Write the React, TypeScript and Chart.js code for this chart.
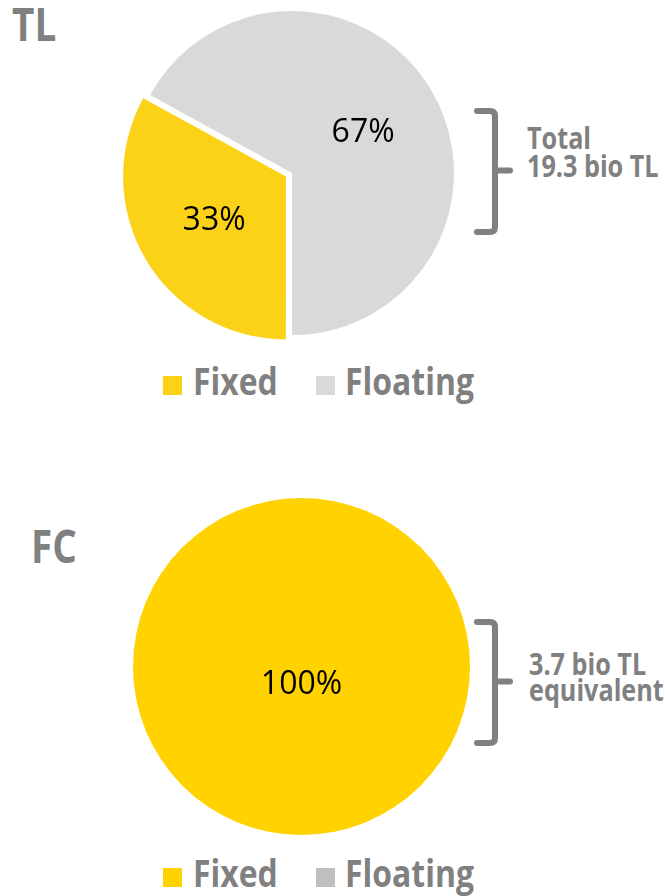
import React, { useEffect, useRef } from "react";
import { Chart, registerables } from "chart.js";

Chart.register(...registerables);

const categories = ["Fixed", "Floating"];
const tlValues = [33, 67];
const fcValues = [100, 0];
const tlColors = ["#FCD219", "#D9D9D9"];
const fcColors = ["#FFD200", "#BFBFBF"];
const tlTitle = "TL";
const fcTitle = "FC";
const tlNote = ["Total", "19.3 bio TL"];
const fcNote = ["3.7 bio TL", "equivalent"];

const GRAY = "#808080";
const FONT = '"Open Sans", "Noto Sans", sans-serif';

const pctLabels = {
  id: "pctLabels",
  afterDatasetsDraw(chart: any) {
    const ctx = chart.ctx;
    const ds = chart.data.datasets[0];
    const vals: number[] = ds.data;
    const total = vals.reduce((a: number, b: number) => a + b, 0);
    const meta = chart.getDatasetMeta(0);
    ctx.save();
    ctx.font = `500 32px ${FONT}`;
    ctx.fillStyle = "#000";
    ctx.textAlign = "center";
    ctx.textBaseline = "alphabetic";
    meta.data.forEach((arc: any, i: number) => {
      const v = vals[i];
      if (!v) return;
      const p = arc.getProps(["x", "y", "startAngle", "endAngle", "outerRadius", "circumference"], true);
      const off = Array.isArray(ds.offset) ? ds.offset[i] || 0 : ds.offset || 0;
      let cx: number, cy: number;
      const circ = p.endAngle - p.startAngle;
      if (circ >= Math.PI * 2 - 1e-6) {
        cx = p.x;
        cy = p.y + p.outerRadius * 0.095;
      } else {
        const mid = (p.startAngle + p.endAngle) / 2;
        const fix = 1 - Math.sin(Math.min(Math.PI, circ));
        const shift = (off / 4) * (1 + fix);
        const d = shift + p.outerRadius * 0.51;
        cx = p.x + Math.cos(mid) * d;
        cy = p.y + Math.sin(mid) * d;
      }
      ctx.fillText(Math.round((v / total) * 100) + "%", cx, cy + 32 * 0.357);
    });
    ctx.restore();
  },
};

function Pie(props: { values: number[]; colors: string[]; offsets: number[]; size: number; left: number; top: number }) {
  const ref = useRef<HTMLCanvasElement>(null);
  useEffect(() => {
    const chart = new Chart(ref.current as HTMLCanvasElement, {
      type: "pie",
      data: {
        labels: categories,
        datasets: [
          {
            data: props.values,
            backgroundColor: props.colors,
            borderWidth: 0,
            offset: props.offsets,
            hoverOffset: 0,
          } as any,
        ],
      },
      options: {
        responsive: false,
        animation: false,
        devicePixelRatio: 1,
        rotation: 180,
        layout: { padding: 0 },
        plugins: { legend: { display: false }, tooltip: { enabled: false } },
        events: [],
      },
      plugins: [pctLabels],
    });
    return () => chart.destroy();
  }, []);
  return (
    <canvas
      ref={ref}
      width={props.size}
      height={props.size}
      style={{ position: "absolute", left: props.left, top: props.top, width: props.size, height: props.size }}
    />
  );
}

function Txt(props: { text: string; left: number; baseline: number; size: number; weight?: number; sx?: number }) {
  const s = props.size;
  return (
    <div
      style={{
        position: "absolute",
        left: props.left,
        top: props.baseline - 0.888 * s,
        fontFamily: FONT,
        fontSize: s,
        lineHeight: 1,
        fontWeight: props.weight ?? 700,
        color: GRAY,
        whiteSpace: "nowrap",
        transform: `scaleX(${props.sx ?? 0.84})`,
        transformOrigin: "left top",
      }}
    >
      {props.text}
    </div>
  );
}

function Bracket(props: { top: number; bottom: number; x: number }) {
  const { top, bottom, x } = props;
  const mid = (top + bottom) / 2 - 1;
  const r = 5;
  const d = `M ${x - 18} ${top} H ${x - r} Q ${x} ${top} ${x} ${top + r} V ${bottom - r} Q ${x} ${bottom} ${x - r} ${bottom} H ${x - 18} M ${x} ${mid} H ${x + 15}`;
  return <path d={d} stroke={GRAY} strokeWidth={6} fill="none" strokeLinecap="round" strokeLinejoin="round" />;
}

function Legend(props: { colors: string[]; baseline: number }) {
  const sq = 19;
  return (
    <>
      <div style={{ position: "absolute", left: 163, top: props.baseline - sq, width: sq, height: sq, background: props.colors[0] }} />
      <Txt text={categories[0]} left={193} baseline={props.baseline} size={38} />
      <div style={{ position: "absolute", left: 316, top: props.baseline - sq, width: sq, height: sq, background: props.colors[1] }} />
      <Txt text={categories[1]} left={345} baseline={props.baseline} size={38} />
    </>
  );
}

export default function App() {
  return (
    <div style={{ position: "absolute", left: 0, top: 0, width: 665, height: 896, background: "#fff", overflow: "hidden" }}>
      <Txt text={tlTitle} left={12} baseline={41} size={46} sx={0.84} />
      <Pie values={tlValues} colors={tlColors} offsets={[28, 0]} size={352} left={116} top={-3} />
      <Legend colors={tlColors} baseline={395} />
      <Txt text={tlNote[0]} left={527} baseline={150} size={30} />
      <Txt text={tlNote[1]} left={527} baseline={178} size={30} />

      <Txt text={fcTitle} left={31} baseline={563} size={46} sx={0.84} />
      <Pie values={fcValues} colors={fcColors} offsets={[0, 0]} size={337} left={133} top={498} />
      <Legend colors={fcColors} baseline={887} />
      <Txt text={fcNote[0]} left={529} baseline={676} size={30} />
      <Txt text={fcNote[1]} left={529} baseline={702} size={30} />

      <svg width={665} height={896} style={{ position: "absolute", left: 0, top: 0, pointerEvents: "none" }}>
        <Bracket top={111} bottom={232} x={495} />
        <Bracket top={622} bottom={743} x={495} />
      </svg>
    </div>
  );
}
